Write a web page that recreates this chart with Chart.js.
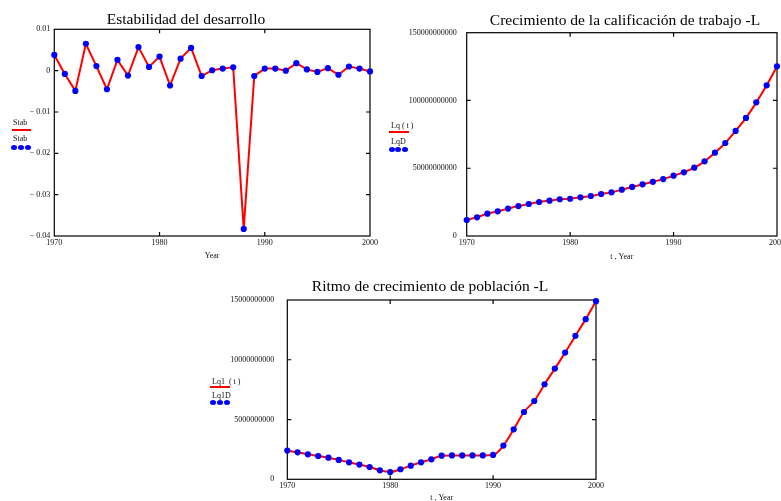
<!DOCTYPE html>
<html>
<head>
<meta charset="utf-8">
<script src="https://cdn.jsdelivr.net/npm/chart.js@4/dist/chart.umd.min.js"></script>
<style>
  html, body { margin: 0; padding: 0; background: #fff; }
  #page { position: relative; width: 781px; height: 501px; overflow: hidden; background: #fff; }
  canvas { position: absolute; }
  .ttl { position: absolute; width: 400px; text-align: center; font: 15.5px 'Liberation Serif', 'Times New Roman', serif; line-height: 18px; color: #000; white-space: nowrap; z-index: 2; }
  .lg { position: absolute; font: 8px 'Liberation Serif', 'Times New Roman', serif; line-height: 9px; color: #111; white-space: pre; z-index: 2; }
  .lgline { position: absolute; height: 2px; background: #ff0000; z-index: 2; }
  .dot { position: absolute; width: 6px; height: 5px; border-radius: 50%; background: #0000ff; z-index: 2; }
</style>
</head>
<body>
<div id="page">
  <canvas id="c1" width="390" height="270" style="left:0;top:0"></canvas>
  <canvas id="c2" width="391" height="270" style="left:390px;top:0"></canvas>
  <canvas id="c3" width="420" height="240" style="left:200px;top:270px"></canvas>

  <div class="ttl" style="left:-14px;top:10px">Estabilidad del desarrollo</div>
  <div class="ttl" style="left:425px;top:11px">Crecimiento de la calificación de trabajo -L</div>
  <div class="ttl" style="left:230px;top:277px">Ritmo de crecimiento de población -L</div>

  <!-- legend: Stab -->
  <div class="lg" style="left:13px;top:118px">Stab</div>
  <div class="lgline" style="left:12px;top:129px;width:19px"></div>
  <div class="lg" style="left:13px;top:134px">Stab</div>
  <div class="dot" style="left:11px;top:145px"></div>
  <div class="dot" style="left:18px;top:145px"></div>
  <div class="dot" style="left:25px;top:145px"></div>

  <!-- legend: Lq(t) -->
  <div class="lg" style="left:391px;top:121px">Lq ( t )</div>
  <div class="lgline" style="left:389px;top:131px;width:20px"></div>
  <div class="lg" style="left:391px;top:137px">LqD</div>
  <div class="dot" style="left:389px;top:147px"></div>
  <div class="dot" style="left:395px;top:147px"></div>
  <div class="dot" style="left:402px;top:147px"></div>

  <!-- legend: Lq1(t) -->
  <div class="lg" style="left:212px;top:377px">Lq1  ( t )</div>
  <div class="lgline" style="left:210px;top:386px;width:20px"></div>
  <div class="lg" style="left:212px;top:391px">Lq1D</div>
  <div class="dot" style="left:210px;top:400px"></div>
  <div class="dot" style="left:217px;top:400px"></div>
  <div class="dot" style="left:224px;top:400px"></div>
</div>

<script>
// Years shared by all three panels
const years = [1970, 1971, 1972, 1973, 1974, 1975, 1976, 1977, 1978, 1979,
               1980, 1981, 1982, 1983, 1984, 1985, 1986, 1987, 1988, 1989,
               1990, 1991, 1992, 1993, 1994, 1995, 1996, 1997, 1998, 1999, 2000];

// Development stability index
const stab = [0.0038, -0.0008, -0.0049, 0.0065, 0.0011, -0.0045, 0.0026, -0.0012, 0.0057, 0.0009,
              0.0034, -0.0036, 0.0029, 0.0055, -0.0013, 0.0001, 0.0005, 0.0008, -0.0383, -0.0013,
              0.0005, 0.0005, 0.0000, 0.0018, 0.0003, -0.0003, 0.0006, -0.0010, 0.0010, 0.0005, -0.0002];

// Labour qualification growth, Lq
const lq = [1.18e10, 1.38e10, 1.65e10, 1.82e10, 2.02e10, 2.21e10, 2.36e10, 2.51e10, 2.61e10, 2.71e10,
            2.75e10, 2.85e10, 2.95e10, 3.10e10, 3.22e10, 3.42e10, 3.62e10, 3.81e10, 4.00e10, 4.20e10,
            4.45e10, 4.70e10, 5.04e10, 5.51e10, 6.15e10, 6.86e10, 7.75e10, 8.71e10, 9.86e10, 1.112e11, 1.252e11];

// Population growth rate, Lq1
const lq1 = [2.40e9, 2.26e9, 2.09e9, 1.95e9, 1.81e9, 1.62e9, 1.42e9, 1.23e9, 1.03e9, 0.75e9,
             0.61e9, 0.84e9, 1.14e9, 1.42e9, 1.67e9, 1.98e9, 2.00e9, 2.00e9, 2.00e9, 2.00e9,
             2.04e9, 2.82e9, 4.18e9, 5.63e9, 6.55e9, 7.95e9, 9.26e9, 10.6e9, 12.0e9, 13.4e9, 14.9e9];

// Axis tick definitions
const yearTicks = [1970, 1980, 1990, 2000];
const stabTicks = { min: -0.04, max: 0.01, step: 0.01 };
const lqTicks   = { min: 0, max: 1.5e11, step: 5e10 };
const lq1Ticks  = { min: 0, max: 1.5e10, step: 5e9 };

const RED = '#ff0000';
const BLUE = '#0000ff';
const SERIF = "'Liberation Serif', 'Times New Roman', serif";
const tickFont = { family: SERIF, size: 8 };

// Plot frame with short inward tick marks on all four sides
const frameTicks = {
  id: 'frameTicks',
  beforeDatasetsDraw(chart) {
    const { ctx, chartArea: a, scales: { x, y } } = chart;
    const len = 4;
    ctx.save();
    ctx.strokeStyle = '#000';
    ctx.lineWidth = 1.2;
    ctx.strokeRect(a.left, a.top, a.right - a.left, a.bottom - a.top);
    ctx.beginPath();
    y.ticks.forEach(t => {
      const py = y.getPixelForValue(t.value);
      if (py > a.top + 1 && py < a.bottom - 1) {
        ctx.moveTo(a.left, py); ctx.lineTo(a.left + len, py);
        ctx.moveTo(a.right, py); ctx.lineTo(a.right - len, py);
      }
    });
    x.ticks.forEach(t => {
      const px = x.getPixelForValue(t.value);
      if (px > a.left + 1 && px < a.right - 1) {
        ctx.moveTo(px, a.top); ctx.lineTo(px, a.top + len);
        ctx.moveTo(px, a.bottom); ctx.lineTo(px, a.bottom - len);
      }
    });
    ctx.stroke();
    ctx.restore();
  }
};

function toPoints(vals) {
  return years.map((yr, i) => ({ x: yr, y: vals[i] }));
}

function makeChart(id, c) {
  const pts = toPoints(c.values);
  return new Chart(document.getElementById(id), {
    type: 'line',
    data: {
      datasets: [
        { label: c.dotLabel, data: pts, showLine: false, pointRadius: 3.1,
          pointBackgroundColor: BLUE, pointBorderWidth: 0, clip: false },
        { label: c.lineLabel, data: pts, borderColor: RED, borderWidth: 2, pointRadius: 0,
          tension: c.smooth ? 0.4 : 0, cubicInterpolationMode: c.smooth ? 'monotone' : 'default',
          clip: false }
      ]
    },
    options: {
      responsive: false,
      animation: false,
      events: [],
      layout: { padding: c.padding },
      plugins: { legend: { display: false }, tooltip: { enabled: false }, title: { display: false } },
      scales: {
        x: {
          type: 'linear', min: yearTicks[0], max: yearTicks[yearTicks.length - 1],
          afterBuildTicks: s => { s.ticks = yearTicks.map(v => ({ value: v })); },
          ticks: { padding: 2, maxRotation: 0, autoSkip: false, font: tickFont, color: '#111',
                   callback: v => String(v) },
          grid: { display: false, drawTicks: false }, border: { display: false },
          title: { display: true, text: c.xTitle, font: tickFont, color: '#111', padding: 0 },
          afterFit: s => { s.height = c.xH; s.paddingLeft = 0; s.paddingRight = 0; }
        },
        y: {
          min: c.ticks.min, max: c.ticks.max,
          ticks: { stepSize: c.ticks.step, padding: c.yPad, font: tickFont, color: '#111',
                   callback: c.fmt },
          grid: { display: false, drawTicks: false }, border: { display: false },
          afterFit: s => { s.width = c.yW; s.paddingTop = 0; s.paddingBottom = 0; }
        }
      }
    },
    plugins: [frameTicks]
  });
}

const fmtStab = v => {
  const r = Math.round(v * 100) / 100;
  if (Math.abs(r) < 1e-9) return '0';
  return r < 0 ? '\u2212 ' + (-r).toFixed(2) : r.toFixed(2);
};
const fmtInt = v => Math.round(v).toFixed(0);

makeChart('c1', {
  values: stab, ticks: stabTicks, fmt: fmtStab, smooth: false,
  lineLabel: 'Stab', dotLabel: 'Stab', xTitle: 'Year',
  padding: { top: 29.3, left: 0, right: 20, bottom: 9.2 }, yW: 54.3, xH: 24.8, yPad: 4
});

makeChart('c2', {
  values: lq, ticks: lqTicks, fmt: fmtInt, smooth: true,
  lineLabel: 'Lq(t)', dotLabel: 'LqD', xTitle: 't , Year',
  padding: { top: 32.7, left: 0, right: 3.7, bottom: 8.2 }, yW: 76.7, xH: 25.8, yPad: 10
});

makeChart('c3', {
  values: lq1, ticks: lq1Ticks, fmt: fmtInt, smooth: true,
  lineLabel: 'Lq1(t)', dotLabel: 'Lq1D', xTitle: 't , Year',
  padding: { top: 30, left: 0, right: 24, bottom: 7.5 }, yW: 87.3, xH: 23.2, yPad: 13
});
</script>
</body>
</html>
